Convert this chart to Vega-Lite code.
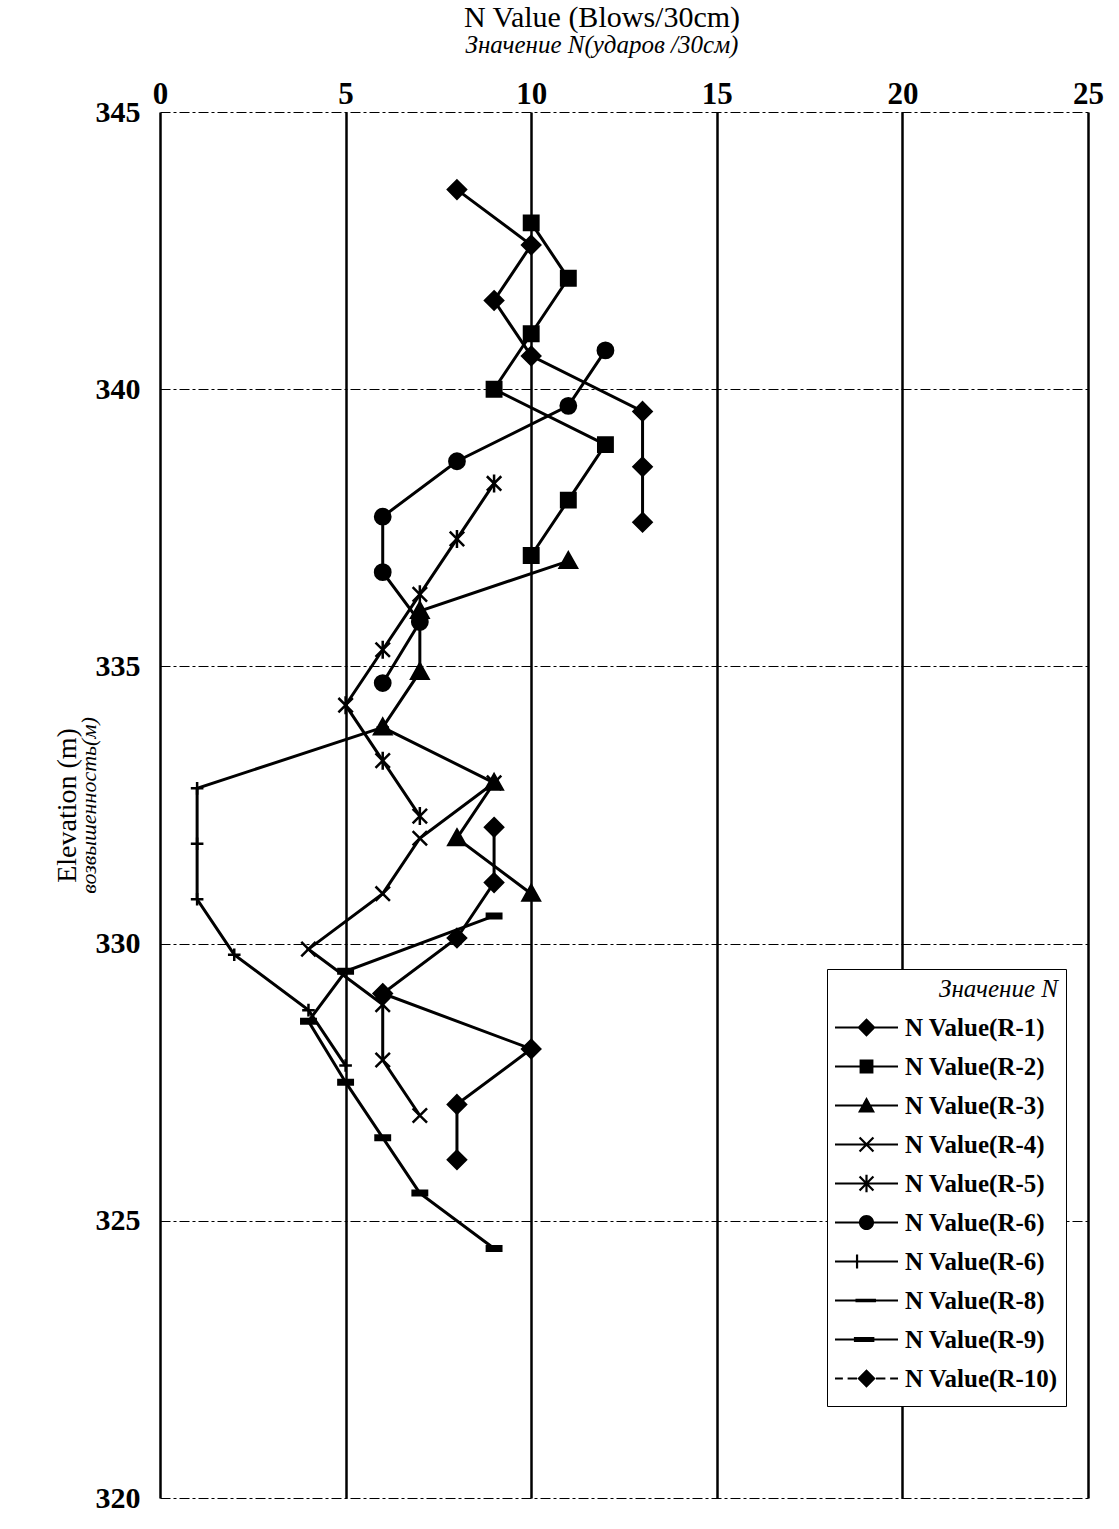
{
  "$schema": "https://vega.github.io/schema/vega-lite/v6.json",
  "autosize": {"type": "none"},
  "width": 928,
  "height": 1386,
  "padding": {"left": 160, "top": 112, "right": 31, "bottom": 31},
  "background": "white",
  "title": {
    "text": "N Value (Blows/30cm)",
    "subtitle": "Значение N(ударов /30см)",
    "font": "Liberation Serif",
    "fontSize": 30,
    "fontWeight": "normal",
    "color": "black",
    "subtitleFont": "Liberation Serif",
    "subtitleFontSize": 25,
    "subtitleFontStyle": "italic",
    "subtitleColor": "black",
    "subtitlePadding": 0,
    "anchor": "middle",
    "offset": 20,
    "dx": -22
  },
  "config": {"view": {"stroke": null}, "font": "Liberation Serif"},
  "datasets": {
    "pts": [
      {"s": "R-1", "x": 8, "y": 343.6}, {"s": "R-1", "x": 10, "y": 342.6}, {"s": "R-1", "x": 9, "y": 341.6}, {"s": "R-1", "x": 10, "y": 340.6}, {"s": "R-1", "x": 13, "y": 339.6}, {"s": "R-1", "x": 13, "y": 338.6}, {"s": "R-1", "x": 13, "y": 337.6},
      {"s": "R-2", "x": 10, "y": 343.0}, {"s": "R-2", "x": 11, "y": 342.0}, {"s": "R-2", "x": 10, "y": 341.0}, {"s": "R-2", "x": 9, "y": 340.0}, {"s": "R-2", "x": 12, "y": 339.0}, {"s": "R-2", "x": 11, "y": 338.0}, {"s": "R-2", "x": 10, "y": 337.0},
      {"s": "R-3", "x": 11, "y": 336.9}, {"s": "R-3", "x": 7, "y": 336.0}, {"s": "R-3", "x": 7, "y": 334.9}, {"s": "R-3", "x": 6, "y": 333.9}, {"s": "R-3", "x": 9, "y": 332.9}, {"s": "R-3", "x": 8, "y": 331.9}, {"s": "R-3", "x": 10, "y": 330.9},
      {"s": "R-4", "x": 9, "y": 332.9}, {"s": "R-4", "x": 7, "y": 331.9}, {"s": "R-4", "x": 6, "y": 330.9}, {"s": "R-4", "x": 4, "y": 329.9}, {"s": "R-4", "x": 6, "y": 328.9}, {"s": "R-4", "x": 6, "y": 327.9}, {"s": "R-4", "x": 7, "y": 326.9},
      {"s": "R-5", "x": 9, "y": 338.3}, {"s": "R-5", "x": 8, "y": 337.3}, {"s": "R-5", "x": 7, "y": 336.3}, {"s": "R-5", "x": 6, "y": 335.3}, {"s": "R-5", "x": 5, "y": 334.3}, {"s": "R-5", "x": 6, "y": 333.3}, {"s": "R-5", "x": 7, "y": 332.3},
      {"s": "R-6", "x": 12, "y": 340.7}, {"s": "R-6", "x": 11, "y": 339.7}, {"s": "R-6", "x": 8, "y": 338.7}, {"s": "R-6", "x": 6, "y": 337.7}, {"s": "R-6", "x": 6, "y": 336.7}, {"s": "R-6", "x": 7, "y": 335.8}, {"s": "R-6", "x": 6, "y": 334.7},
      {"s": "R-7", "x": 6, "y": 333.9}, {"s": "R-7", "x": 1, "y": 332.8}, {"s": "R-7", "x": 1, "y": 331.8}, {"s": "R-7", "x": 1, "y": 330.8}, {"s": "R-7", "x": 2, "y": 329.8}, {"s": "R-7", "x": 4, "y": 328.8}, {"s": "R-7", "x": 5, "y": 327.8},
      {"s": "R-9", "x": 9, "y": 330.5}, {"s": "R-9", "x": 5, "y": 329.5}, {"s": "R-9", "x": 4, "y": 328.6}, {"s": "R-9", "x": 5, "y": 327.5}, {"s": "R-9", "x": 6, "y": 326.5}, {"s": "R-9", "x": 7, "y": 325.5}, {"s": "R-9", "x": 9, "y": 324.5},
      {"s": "R-10", "x": 9, "y": 332.1}, {"s": "R-10", "x": 9, "y": 331.1}, {"s": "R-10", "x": 8, "y": 330.1}, {"s": "R-10", "x": 6, "y": 329.1}, {"s": "R-10", "x": 10, "y": 328.1}, {"s": "R-10", "x": 8, "y": 327.1}, {"s": "R-10", "x": 8, "y": 326.1}
    ]
  },
  "data": {"name": "pts"},
  "layer": [
    {
      "layer": [
        {
          "mark": {"type": "line", "color": "black", "strokeWidth": 3},
          "encoding": {
            "x": {
              "field": "x", "type": "quantitative",
              "scale": {"domain": [0, 25], "nice": false, "zero": false},
              "axis": {
                "orient": "top", "values": [0, 5, 10, 15, 20, 25], "title": null,
                "ticks": false, "domain": false,
                "grid": true, "gridColor": "black", "gridWidth": 2.5, "gridOpacity": 1,
                "labelFont": "Liberation Serif", "labelFontSize": 31, "labelFontWeight": "bold",
                "labelColor": "black", "labelPadding": 2, "labelFlush": false, "labelOverlap": false
              }
            },
            "y": {
              "field": "y", "type": "quantitative",
              "scale": {"domain": [320, 345], "nice": false, "zero": false},
              "axis": {
                "values": [320, 325, 330, 335, 340, 345],
                "title": "Elevation (m)",
                "titleFont": "Liberation Serif", "titleFontSize": 28, "titleFontWeight": "normal",
                "titleColor": "black", "titlePadding": 14,
                "ticks": false, "domain": false,
                "grid": true, "gridColor": "black", "gridWidth": 1.2, "gridOpacity": 1, "gridDash": [10, 3, 3, 3],
                "labelFont": "Liberation Serif", "labelFontSize": 30, "labelFontWeight": "bold",
                "labelColor": "black", "labelPadding": 20, "labelFlush": false, "labelOverlap": false
              }
            },
            "detail": {"field": "s"},
            "order": {"field": "y", "sort": "descending"}
          }
        },
        {
          "mark": {"type": "point", "filled": true, "color": "black", "stroke": "black", "strokeWidth": 2.5, "opacity": 1, "size": 324},
          "encoding": {
            "x": {"field": "x", "type": "quantitative"},
            "y": {"field": "y", "type": "quantitative"},
            "shape": {
              "field": "s", "type": "nominal",
              "scale": {
                "domain": ["R-1", "R-2", "R-3", "R-4", "R-5", "R-6", "R-7", "R-8", "R-9", "R-10"],
                "range": [
                  "M0,-1L1,0L0,1L-1,0Z",
                  "M-0.8,-0.8L0.8,-0.8L0.8,0.8L-0.8,0.8Z",
                  "M0,-0.95L0.95,0.75L-0.95,0.75Z",
                  "M-0.8,-0.8L0.8,0.8M-0.8,0.8L0.8,-0.8",
                  "M-0.8,-0.8L0.8,0.8M-0.8,0.8L0.8,-0.8M0,-1L0,1",
                  "M-0.85,0A0.85,0.85,0,1,0,0.85,0A0.85,0.85,0,1,0,-0.85,0Z",
                  "M-0.7,0L0.7,0M0,-0.7L0,0.7",
                  "M-0.8,0L0.8,0",
                  "M-0.8,-0.25L0.8,-0.25L0.8,0.25L-0.8,0.25Z",
                  "M0,-1L1,0L0,1L-1,0Z"
                ]
              },
              "legend": null
            }
          }
        }
      ]
    },
    {
      "transform": [{"filter": "false"}],
      "mark": {"type": "point", "filled": true, "color": "black", "opacity": 1},
      "encoding": {
        "y": {
          "field": "y", "type": "quantitative",
          "scale": {"domain": [320, 345], "nice": false, "zero": false},
          "axis": {
            "orient": "left", "labels": false, "ticks": false, "domain": false, "grid": false,
            "title": "возвышенность(м)",
            "titleFont": "Liberation Serif", "titleFontSize": 22, "titleFontStyle": "italic",
            "titleFontWeight": "normal", "titleColor": "black", "titlePadding": 60
          }
        },
        "shape": {
          "field": "s", "type": "nominal",
          "scale": {
            "domain": ["R-1", "R-2", "R-3", "R-4", "R-5", "R-6", "R-7", "R-8", "R-9", "R-10"],
            "range": [
              "M-1,-0.035L1,-0.035L1,0.035L-1,0.035ZM0,-0.29L0.29,0L0,0.29L-0.29,0Z",
              "M-1,-0.035L1,-0.035L1,0.035L-1,0.035ZM-0.22,-0.22L0.22,-0.22L0.22,0.22L-0.22,0.22Z",
              "M-1,-0.035L1,-0.035L1,0.035L-1,0.035ZM0,-0.27L0.27,0.22L-0.27,0.22Z",
              "M-1,-0.035L1,-0.035L1,0.035L-1,0.035ZM-0.245,-0.195L-0.195,-0.245L0.245,0.195L0.195,0.245ZM-0.245,0.195L0.195,-0.245L0.245,-0.195L-0.195,0.245Z",
              "M-1,-0.035L1,-0.035L1,0.035L-1,0.035ZM-0.245,-0.195L-0.195,-0.245L0.245,0.195L0.195,0.245ZM-0.245,0.195L0.195,-0.245L0.245,-0.195L-0.195,0.245ZM-0.035,-0.28L0.035,-0.28L0.035,0.28L-0.035,0.28Z",
              "M-1,-0.035L1,-0.035L1,0.035L-1,0.035ZM-0.24,0A0.24,0.24,0,1,1,0.24,0A0.24,0.24,0,1,1,-0.24,0Z",
              "M-1,-0.035L1,-0.035L1,0.035L-1,0.035ZM-0.335,-0.22L-0.265,-0.22L-0.265,0.22L-0.335,0.22Z",
              "M-1,-0.035L1,-0.035L1,0.035L-1,0.035ZM-0.35,-0.055L0.3,-0.055L0.3,0.055L-0.35,0.055Z",
              "M-1,-0.035L1,-0.035L1,0.035L-1,0.035ZM-0.4,-0.08L0.25,-0.08L0.25,0.08L-0.4,0.08Z",
              "M-1,-0.035L-0.75,-0.035L-0.75,0.035L-1,0.035ZM-0.6,-0.035L-0.3,-0.035L-0.3,0.035L-0.6,0.035ZM0.3,-0.035L0.6,-0.035L0.6,0.035L0.3,0.035ZM0.75,-0.035L1,-0.035L1,0.035L0.75,0.035ZM0,-0.29L0.29,0L0,0.29L-0.29,0Z"
            ]
          },
          "legend": {
            "orient": "none", "legendX": 667, "legendY": 857,
            "title": "Значение N",
            "titleFont": "Liberation Serif", "titleFontStyle": "italic", "titleFontSize": 25,
            "titleFontWeight": "normal", "titleColor": "black", "titleAnchor": "end", "titlePadding": 6,
            "labelFont": "Liberation Serif", "labelFontSize": 25, "labelFontWeight": "bold",
            "labelColor": "black", "labelOffset": 7, "labelLimit": 300,
            "labelExpr": "datum.value == 'R-7' ? 'N Value(R-6)' : 'N Value(' + datum.value + ')'",
            "symbolSize": 3969, "symbolStrokeWidth": 0, "symbolFillColor": "black", "symbolOpacity": 1,
            "clipHeight": 39, "rowPadding": 0, "symbolLimit": 0,
            "strokeColor": "black", "fillColor": "white", "padding": 8,
            "encode": {
              "symbols": {
                "update": {
                  "fill": {"value": "black"},
                  "opacity": {"value": 1}
                }
              }
            }
          }
        }
      }
    }
  ],
  "resolve": {"scale": {"y": "independent", "shape": "independent"}}
}
